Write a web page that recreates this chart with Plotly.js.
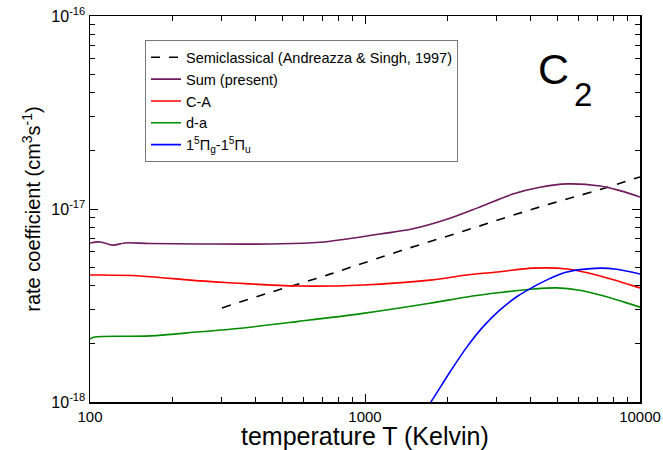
<!DOCTYPE html>
<html><head><meta charset="utf-8">
<script src="https://cdn.plot.ly/plotly-3.0.1.min.js"></script>
<style>body{margin:0;background:#fff}#chart{width:663px;height:450px}</style>
</head><body><div id="chart"></div>
<script>
// Semiclassical (Andreazza & Singh, 1997)
const semiT = [302, 451, 647, 881, 1340, 2349, 4083, 7157, 10000];
const semiK = [3.07e-18, 3.69e-18, 4.31e-18, 4.97e-18, 6.06e-18, 7.78e-18, 1.00e-17, 1.262e-17, 1.466e-17];
// Sum (present)
const sumT = [100, 109, 121, 134, 165, 251, 451, 686, 1134, 1494, 1986, 2618, 3451, 4327, 5430, 7157, 8453, 10000];
const sumK = [6.67e-18, 6.75e-18, 6.50e-18, 6.67e-18, 6.62e-18, 6.59e-18, 6.59e-18, 6.72e-18, 7.42e-18, 7.90e-18, 8.85e-18, 1.025e-17, 1.195e-17, 1.295e-17, 1.349e-17, 1.315e-17, 1.245e-17, 1.154e-17];
// C-A
const caT = [100, 106, 152, 251, 323, 566, 983, 1722, 2349, 3097, 4083, 5430, 7157, 10000];
const caK = [4.55e-18, 4.55e-18, 4.50e-18, 4.24e-18, 4.15e-18, 3.99e-18, 4.04e-18, 4.28e-18, 4.55e-18, 4.73e-18, 4.94e-18, 4.89e-18, 4.50e-18, 3.90e-18];
// d-a
const daT = [100, 104, 165, 251, 323, 566, 983, 1722, 2349, 3097, 4083, 4990, 6044, 7157, 10000];
const daK = [2.12e-18, 2.17e-18, 2.20e-18, 2.31e-18, 2.38e-18, 2.61e-18, 2.88e-18, 3.25e-18, 3.50e-18, 3.69e-18, 3.85e-18, 3.90e-18, 3.79e-18, 3.58e-18, 3.10e-18];
// 1^5Pi_g - 1^5Pi_u
const piT = [1585, 1752, 2037, 2349, 2685, 3097, 3573, 4083, 4711, 5430, 7157, 8241, 10000];
const piK = [8.26e-19, 1.02e-18, 1.43e-18, 1.93e-18, 2.45e-18, 3.00e-18, 3.52e-18, 3.94e-18, 4.37e-18, 4.72e-18, 4.94e-18, 4.87e-18, 4.60e-18];

const xTickVals = [100, 1000, 10000];
const xTickText = ['100', '1000', '10000'];
const yTickVals = [1e-18, 1e-17, 1e-16];
const yTickText = ['10<sup>-18</sup>', '10<sup>-17</sup>', '10<sup>-16</sup>'];

const xMinor = [], yMinor = [];
[100, 1000].forEach(d => { for (let i = 2; i <= 9; i++) xMinor.push(d * i); });
[1e-18, 1e-17].forEach(d => { for (let i = 2; i <= 9; i++) yMinor.push(d * i); });

const lw = 1.6;
const traces = [
  {x: semiT, y: semiK, name: 'Semiclassical (Andreazza &amp; Singh, 1997)', mode: 'lines', line: {color: '#000', width: lw, dash: 'dash', shape: 'spline'}},
  {x: sumT, y: sumK, name: 'Sum (present)', mode: 'lines', line: {color: '#6e1a5c', width: lw, shape: 'spline'}},
  {x: caT, y: caK, name: 'C-A', mode: 'lines', line: {color: '#ff0000', width: lw, shape: 'spline'}},
  {x: daT, y: daK, name: 'd-a', mode: 'lines', line: {color: '#008b00', width: lw, shape: 'spline'}},
  {x: piT, y: piK, name: '1<sup>5</sup>Π<sub>g</sub>-1<sup>5</sup>Π<sub>u</sub>', mode: 'lines', line: {color: '#0000ff', width: lw, shape: 'spline'}}
];

const font = 'Liberation Sans, Arial, sans-serif';
const layout = {
  width: 663, height: 450,
  margin: {l: 90, r: 23, t: 16, b: 48},
  paper_bgcolor: '#fff', plot_bgcolor: '#fff',
  font: {family: font, color: '#000'},
  showlegend: true,
  legend: {x: 0.1, y: 0.937, xanchor: 'left', yanchor: 'top', bgcolor: '#fff',
           bordercolor: '#777', borderwidth: 1, font: {size: 14.5, family: font},
           tracegroupgap: 0, itemwidth: 30},
  xaxis: {type: 'log', range: [2, 4], showgrid: false, zeroline: false,
          showline: true, linecolor: '#000', linewidth: 1.5, mirror: 'ticks',
          ticks: 'inside', ticklen: 8, tickcolor: '#000', tickwidth: 1,
          tickvals: xTickVals, ticktext: xTickText, tickfont: {size: 15},
          minor: {tickvals: xMinor, ticks: 'inside', ticklen: 5, tickcolor: '#000', showgrid: false}},
  yaxis: {type: 'log', range: [-18, -16], showgrid: false, zeroline: false,
          showline: true, linecolor: '#000', linewidth: 1.5, mirror: 'ticks',
          ticks: 'inside', ticklen: 8, tickcolor: '#000', tickwidth: 1,
          tickvals: yTickVals, ticktext: yTickText, tickfont: {size: 16},
          minor: {tickvals: yMinor, ticks: 'inside', ticklen: 5, tickcolor: '#000', showgrid: false},
          title: {text: 'rate coefficient (cm<sup>3</sup>s<sup>-1</sup>)', font: {size: 20}, standoff: 5}},
  annotations: [
    {xref: 'paper', yref: 'paper', x: 0.5, y: -0.05, xanchor: 'center', yanchor: 'top',
     text: 'temperature T (Kelvin)', showarrow: false, borderpad: 0, font: {size: 25, family: font}},
    {xref: 'paper', yref: 'paper', x: 0.843, y: 0.862, xanchor: 'center', yanchor: 'middle',
     text: 'C', showarrow: false, font: {size: 43, family: font}},
    {xref: 'paper', yref: 'paper', x: 0.897, y: 0.796, xanchor: 'center', yanchor: 'middle',
     text: '2', showarrow: false, font: {size: 33, family: font}}
  ]
};
Plotly.newPlot('chart', traces, layout, {staticPlot: true});
</script></body></html>
